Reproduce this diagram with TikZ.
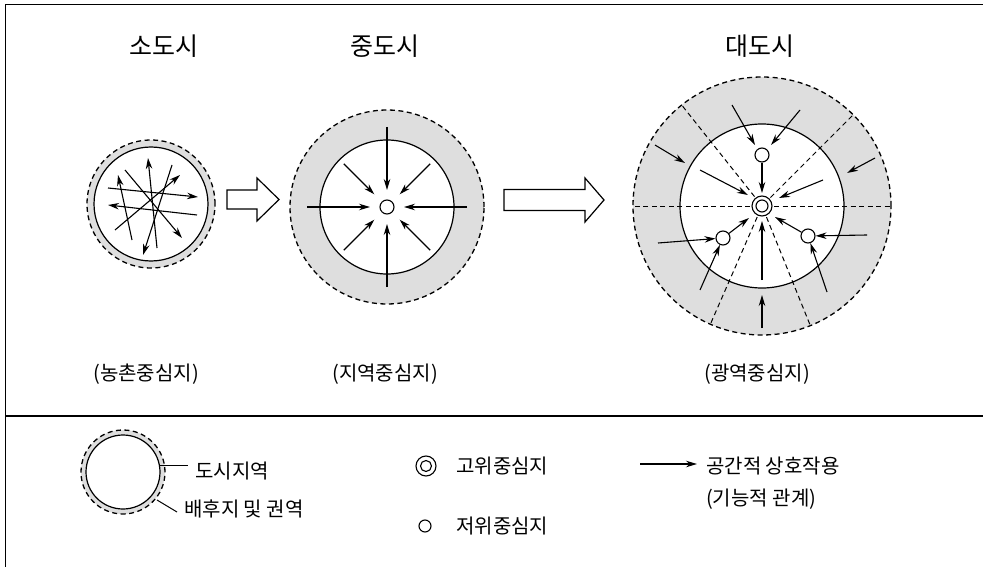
\documentclass[tikz,border=0pt]{standalone}
\usepackage{fontspec}
\newfontfamily\kr{Noto Sans CJK KR}
\usetikzlibrary{arrows.meta,calc}
\definecolor{ringgray}{RGB}{222,222,222}
\tikzset{
  arr/.style={-{Stealth[length=11pt,width=6.5pt]}, line width=1.1pt},
  dline/.style={dash pattern=on 5pt off 3.5pt, line width=1.3pt},
  solidc/.style={line width=1.2pt},
  title/.style={font=\kr\fontsize{25}{28}\selectfont, inner sep=0pt},
  sub/.style={font=\kr\fontsize{20}{24}\selectfont, inner sep=0pt},
  leg/.style={font=\kr\fontsize{20}{24}\selectfont, inner sep=0pt, anchor=west},
  hollow/.style={draw, line width=1.2pt, fill=white, line join=miter}
}
\begin{document}
\begin{tikzpicture}[x=1pt,y=-1pt]
\useasboundingbox (0,0) rectangle (983,567);
% frame
\draw[line width=1pt] (5,567) -- (5,5) -- (983,5);
\draw[line width=1.3pt] (5,416) -- (983,416);

% titles
\node[title] (t1) at (164,46) {소도시};
\node[title] (t2) at (385,46) {중도시};
\node[title] (t3) at (760,46) {대도시};
\node[sub] (s1) at (146,374) {(농촌중심지)};
\node[sub] (s2) at (385,374) {(지역중심지)};
\node[sub] (s3) at (757,374) {(광역중심지)};

% ---------- small city
\coordinate (A) at (151,204);
\fill[ringgray] (A) circle[radius=64pt];
\fill[white] (A) circle[radius=57pt];
\draw[solidc] (A) circle[radius=57pt];
\draw[dline] (A) circle[radius=64pt];
\draw[arr] (108,188) -- (198,197);
\draw[arr] (197,215) -- (108,205);
\draw[arr] (132,240) -- (118,175);
\draw[arr] (125,170) -- (182,238);
\draw[arr] (115,230) -- (180,175);
\draw[arr] (157,248) -- (148,158);
\draw[arr] (172,165) -- (143,255);

% hollow arrow 1
\draw[hollow] (227,190) -- (257,190) -- (257,178) -- (279,199.5) -- (257,221) -- (257,209) -- (227,209) -- cycle;

% ---------- medium city
\coordinate (B) at (387,207);
\fill[ringgray] (B) circle[radius=97pt];
\fill[white] (B) circle[radius=67pt];
\draw[solidc] (B) circle[radius=67pt];
\draw[dline] (B) circle[radius=97pt];
\node[draw, circle, line width=1.1pt, minimum size=14pt, inner sep=0pt, fill=white] (Bc) at (B) {};
\foreach \a in {0,90,180,270}{
  \draw[arr] ($(B)+(\a:80pt)$) -- ($(B)+(\a:17pt)$);
}
\foreach \a in {45,135,225,315}{
  \draw[arr] ($(B)+(\a:61pt)$) -- ($(B)+(\a:18pt)$);
}

% hollow arrow 2
\draw[hollow] (504,189.5) -- (585,189.5) -- (585,178) -- (604,200) -- (585,222) -- (585,210.5) -- (504,210.5) -- cycle;

% ---------- big city
\coordinate (C) at (762,206);
\fill[ringgray] (C) circle[radius=129pt];
\fill[white] (C) circle[radius=82pt];
\foreach \a in {0,45,128.5,180,246.4,292}{
  \draw[dline, line width=1pt] ($(C)+(\a:12pt)$) -- ($(C)+(\a:129pt)$);
}
\draw[solidc] (C) circle[radius=82pt];
\draw[dline] (C) circle[radius=129pt];
\node[draw, circle, line width=1.1pt, minimum size=20pt, inner sep=0pt, fill=white] (Cc) at (C) {};
\draw[line width=1.1pt] (C) circle[radius=6pt];
\node[draw, circle, line width=1.1pt, minimum size=14pt, inner sep=0pt, fill=white] (Ct) at (762,155) {};
\node[draw, circle, line width=1.1pt, minimum size=14pt, inner sep=0pt, fill=white] (Cl) at (723,238) {};
\node[draw, circle, line width=1.1pt, minimum size=14pt, inner sep=0pt, fill=white] (Cr) at (808,236) {};
\draw[arr] (732,105) -- (755,145);
\draw[arr] (800,110) -- (771,145);
\draw[arr] (Ct) -- (762,193);
\draw[arr] (700,170) -- (748,195);
\draw[arr] (823,180) -- (779,198);
\draw[arr] (655,145) -- (685,163);
\draw[arr] (875,158) -- (847,173);
\draw[arr] (658,243) -- (Cl);
\draw[arr] (700,290) -- (Cl);
\draw[arr] (Cl) -- (749,218);
\draw[arr] (762,280) -- (762,221);
\draw[arr] (Cr) -- (775,217);
\draw[arr] (867,235) -- (Cr);
\draw[arr] (827,292) -- (Cr);
\draw[arr] (762,328) -- (762,295);

% ---------- legend
\coordinate (L) at (123,472);
\fill[ringgray] (L) circle[radius=42pt];
\fill[white] (L) circle[radius=37pt];
\draw[solidc] (L) circle[radius=37pt];
\draw[dline] (L) circle[radius=42pt];
\draw[line width=1pt] (160,465) -- (188,465);
\draw[line width=1pt] (157,500) -- (177,512);
\node[leg] (l1) at (195,471) {도시지역};
\node[leg] (l2) at (184,509) {배후지 및 권역};

\node[draw, circle, line width=1.1pt, minimum size=20pt, inner sep=0pt] (g1) at (426,466) {};
\draw[line width=1.1pt] (g1) circle[radius=5.5pt];
\node[leg] (l3) at (456,466) {고위중심지};
\node[draw, circle, line width=1.1pt, minimum size=12pt, inner sep=0pt] (g2) at (425,526) {};
\node[leg] (l4) at (456,526) {저위중심지};

\coordinate (ga) at (640,464);
\coordinate (gb) at (697,464);
\draw[arr] (ga) -- (gb);
\node[leg] (l5) at (706,466) {공간적 상호작용};
\node[leg] (l6) at (706,499) {(기능적 관계)};
\end{tikzpicture}
\end{document}
